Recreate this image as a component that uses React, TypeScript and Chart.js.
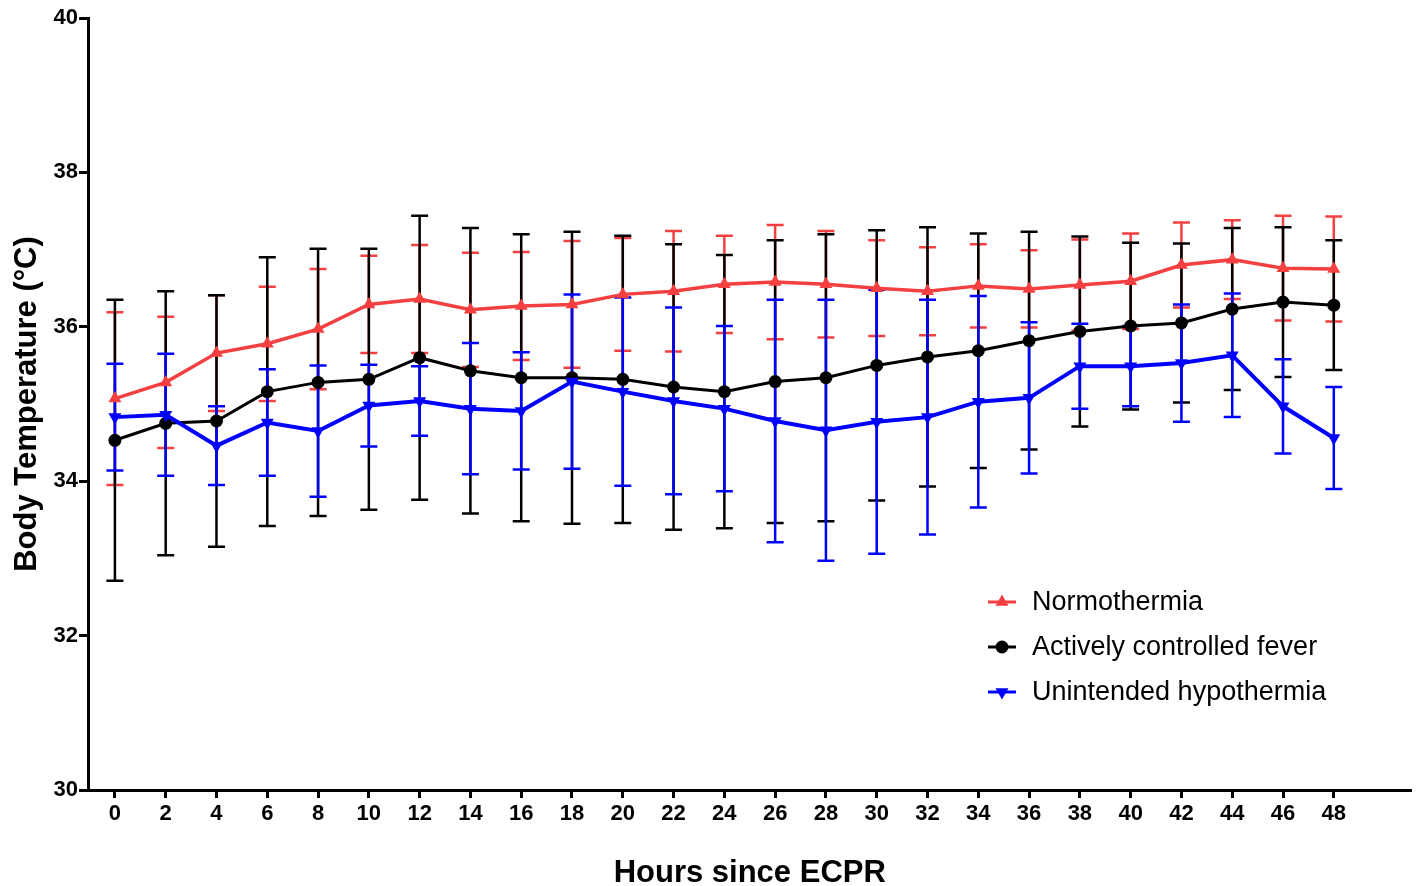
import React, { useEffect, useRef } from 'react';
import { Chart, registerables } from 'chart.js';

Chart.register(...registerables);

// ---- Data ----
const hours = [0, 2, 4, 6, 8, 10, 12, 14, 16, 18, 20, 22, 24, 26, 28, 30, 32, 34, 36, 38, 40, 42, 44, 46, 48];
const xTickValues = [0, 2, 4, 6, 8, 10, 12, 14, 16, 18, 20, 22, 24, 26, 28, 30, 32, 34, 36, 38, 40, 42, 44, 46, 48];
const yTickValues = [30, 32, 34, 36, 38, 40];

const normoMean = [35.07, 35.28, 35.66, 35.78, 35.97, 36.29, 36.36, 36.22, 36.27, 36.29, 36.42, 36.46, 36.55, 36.58, 36.55, 36.50, 36.46, 36.53, 36.49, 36.54, 36.59, 36.80, 36.87, 36.76, 36.75];
const normoSD = [1.12, 0.85, 0.75, 0.74, 0.78, 0.63, 0.70, 0.74, 0.70, 0.82, 0.73, 0.78, 0.63, 0.74, 0.69, 0.62, 0.57, 0.54, 0.50, 0.59, 0.62, 0.55, 0.51, 0.68, 0.68];

const feverMean = [34.53, 34.75, 34.78, 35.16, 35.28, 35.32, 35.60, 35.43, 35.34, 35.34, 35.32, 35.22, 35.16, 35.29, 35.34, 35.50, 35.61, 35.69, 35.82, 35.94, 36.01, 36.05, 36.23, 36.32, 36.28];
const feverSD = [1.82, 1.71, 1.63, 1.74, 1.73, 1.69, 1.84, 1.85, 1.86, 1.89, 1.86, 1.85, 1.77, 1.83, 1.86, 1.75, 1.68, 1.52, 1.41, 1.23, 1.08, 1.03, 1.05, 0.97, 0.84];

const hypoMean = [34.83, 34.86, 34.46, 34.76, 34.65, 34.98, 35.04, 34.94, 34.91, 35.29, 35.16, 35.04, 34.94, 34.78, 34.66, 34.77, 34.83, 35.03, 35.08, 35.49, 35.49, 35.53, 35.63, 34.97, 34.56];
const hypoSD = [0.69, 0.79, 0.51, 0.69, 0.85, 0.53, 0.45, 0.85, 0.76, 1.13, 1.22, 1.21, 1.07, 1.57, 1.69, 1.71, 1.52, 1.37, 0.98, 0.55, 0.52, 0.76, 0.80, 0.61, 0.66];

const seriesLabels = ['Normothermia', 'Actively controlled fever', 'Unintended hypothermia'];

const RED = 'rgb(244, 64, 64)';
const BLACK = '#000000';
const BLUE = '#0000FF';

const BOLD_FONT = "'Liberation Sans', Arial, sans-serif";

function drawMarker(ctx: CanvasRenderingContext2D, style: string, rot: number, x: number, y: number, r: number, color: string) {
  ctx.save();
  ctx.fillStyle = color;
  ctx.beginPath();
  if (style === 'circle') {
    ctx.arc(x, y, r, 0, Math.PI * 2);
  } else {
    const s = rot === 180 ? -1 : 1;
    ctx.moveTo(x, y - s * r);
    ctx.lineTo(x + r * 0.866, y + s * r * 0.5);
    ctx.lineTo(x - r * 0.866, y + s * r * 0.5);
    ctx.closePath();
  }
  ctx.fill();
  ctx.restore();
}

const errorBarPlugin = {
  id: 'errorBars',
  beforeDatasetsDraw(chart: any) {
    const { ctx, scales } = chart;
    const xs = scales.x;
    const ys = scales.y;
    chart.data.datasets.forEach((ds: any) => {
      const sd: number[] = ds.errorBars;
      if (!sd) return;
      ctx.save();
      ctx.strokeStyle = ds.borderColor;
      ctx.lineWidth = 2.5;
      ds.data.forEach((p: any, i: number) => {
        const x = xs.getPixelForValue(p.x);
        const yTop = ys.getPixelForValue(p.y + sd[i]);
        const yBot = ys.getPixelForValue(p.y - sd[i]);
        const half = 8.5;
        ctx.beginPath();
        ctx.moveTo(x, yTop);
        ctx.lineTo(x, yBot);
        ctx.moveTo(x - half, yTop);
        ctx.lineTo(x + half, yTop);
        ctx.moveTo(x - half, yBot);
        ctx.lineTo(x + half, yBot);
        ctx.stroke();
      });
      ctx.restore();
    });
  },
};

const customLegendPlugin = {
  id: 'customLegend',
  afterDraw(chart: any, _args: any, opts: any) {
    const { ctx } = chart;
    const x0 = opts.x;
    let y = opts.y;
    chart.data.datasets.forEach((ds: any) => {
      ctx.save();
      ctx.strokeStyle = ds.borderColor;
      ctx.lineWidth = 3;
      ctx.beginPath();
      ctx.moveTo(x0, y);
      ctx.lineTo(x0 + 28, y);
      ctx.stroke();
      drawMarker(ctx, ds.pointStyle, ds.pointRotation || 0, x0 + 14, y, ds.pointRadius, ds.borderColor);
      ctx.fillStyle = '#000';
      ctx.font = "27px 'Liberation Sans', Arial, sans-serif";
      ctx.textAlign = 'left';
      ctx.textBaseline = 'middle';
      ctx.fillText(ds.label, x0 + 44, y + 1);
      ctx.restore();
      y += opts.gap;
    });
  },
};

export default function App() {
  const canvasRef = useRef<HTMLCanvasElement | null>(null);

  useEffect(() => {
    if (!canvasRef.current) return;
    const mk = (mean: number[]) => hours.map((h, i) => ({ x: h, y: mean[i] }));
    const chart = new Chart(canvasRef.current, {
      type: 'line',
      data: {
        datasets: [
          {
            label: seriesLabels[0],
            data: mk(normoMean),
            errorBars: normoSD,
            borderColor: RED,
            backgroundColor: RED,
            borderWidth: 3.5,
            pointStyle: 'triangle',
            pointRadius: 7.5,
            pointRotation: 0,
            pointBorderWidth: 0,
            order: 2,
          } as any,
          {
            label: seriesLabels[1],
            data: mk(feverMean),
            errorBars: feverSD,
            borderColor: BLACK,
            backgroundColor: BLACK,
            borderWidth: 3,
            pointStyle: 'circle',
            pointRadius: 6.5,
            pointBorderWidth: 0,
            order: 1,
          } as any,
          {
            label: seriesLabels[2],
            data: mk(hypoMean),
            errorBars: hypoSD,
            borderColor: BLUE,
            backgroundColor: BLUE,
            borderWidth: 4,
            pointStyle: 'triangle',
            pointRadius: 7.5,
            pointRotation: 180,
            pointBorderWidth: 0,
            order: 0,
          } as any,
        ],
      },
      options: {
        responsive: false,
        animation: false,
        devicePixelRatio: 1,
        layout: { padding: { top: 18, right: 4, left: 0, bottom: 0 } },
        plugins: {
          legend: { display: false },
          tooltip: { enabled: false },
          customLegend: { x: 988, y: 602, gap: 45 },
        } as any,
        scales: {
          x: {
            type: 'linear',
            min: -1.06,
            max: 51.06,
            afterBuildTicks: (scale: any) => {
              scale.ticks = xTickValues.map((v) => ({ value: v }));
            },
            afterFit: (scale: any) => {
              scale.height = 96;
            },
            grid: {
              display: true,
              drawOnChartArea: false,
              drawTicks: true,
              tickLength: 8,
              tickWidth: 3,
              tickColor: '#000',
            },
            border: { display: true, color: '#000', width: 3 },
            ticks: {
              color: '#000',
              font: { family: BOLD_FONT, size: 22, weight: 'bold' },
              padding: 3,
              maxRotation: 0,
              autoSkip: false,
            },
            title: {
              display: true,
              text: 'Hours since ECPR',
              color: '#000',
              font: { family: BOLD_FONT, size: 31, weight: 'bold', lineHeight: 1 },
              padding: { top: 0, bottom: -3 },
            },
          },
          y: {
            type: 'linear',
            min: 30,
            max: 40,
            afterBuildTicks: (scale: any) => {
              scale.ticks = yTickValues.map((v) => ({ value: v }));
            },
            afterFit: (scale: any) => {
              scale.width = 88;
            },
            grid: {
              display: true,
              drawOnChartArea: false,
              drawTicks: true,
              tickLength: 9,
              tickWidth: 3,
              tickColor: '#000',
            },
            border: { display: true, color: '#000', width: 3 },
            ticks: {
              color: '#000',
              font: { family: BOLD_FONT, size: 22, weight: 'bold' },
              padding: 1,
            },
            title: {
              display: true,
              text: 'Body Temperature (°C)',
              color: '#000',
              font: { family: BOLD_FONT, size: 31, weight: 'bold', lineHeight: 1 },
              padding: { top: 12, bottom: 0 },
            },
          },
        },
      } as any,
      plugins: [errorBarPlugin, customLegendPlugin],
    });
    return () => chart.destroy();
  }, []);

  return (
    <div style={{ position: 'fixed', left: 0, top: 0, width: 1419, height: 886, background: '#fff' }}>
      <canvas ref={canvasRef} width={1419} height={886} style={{ display: 'block' }} />
    </div>
  );
}
